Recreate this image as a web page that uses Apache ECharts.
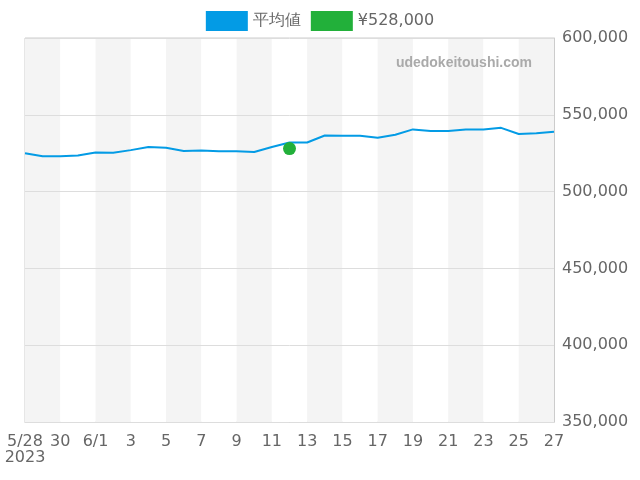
<!DOCTYPE html>
<html><head><meta charset="utf-8">
<script src="https://cdn.jsdelivr.net/npm/echarts@6/dist/echarts.min.js"></script>
</head><body style="margin:0">
<div id="main" style="width:640px;height:480px"></div>
<script>
var days=[];
for(var i=0;i<31;i++){
  var d=new Date(2023,4,28+i);
  days.push((d.getMonth()+1)+'/'+d.getDate());
}
var avg=[525000,523000,523000,523500,525500,525300,527000,529000,528500,526500,526700,526300,526200,525800,529000,532000,532000,536500,536300,536300,535000,537000,540500,539500,539500,540500,540500,541500,537500,538000,539000];
var sale=[];
for(var i=0;i<31;i++) sale.push(i==15?528000:null);

var chart=echarts.init(document.getElementById('main'));
chart.setOption({
  animation:false,
  textStyle:{fontFamily:'DejaVu Sans'},
  legend:{top:6,left:'center',itemWidth:42,itemHeight:20,itemGap:10,icon:'rect',
    textStyle:{fontSize:16,color:'#666'},data:['平均値','¥528,000']},
  grid:{left:25,right:86,top:38,bottom:58,show:true,borderColor:'#ccc',borderWidth:1},
  graphic:[{type:'text',right:108,top:56,z:100,style:{text:'udedokeitoushi.com',fontSize:14,fontWeight:'bold',fill:'#aaa'}}],
  xAxis:{type:'category',data:days,boundaryGap:false,
    axisLine:{lineStyle:{color:'#ccc'}},axisTick:{show:false},
    axisLabel:{interval:1,margin:12,color:'#666',fontSize:16,formatter:function(v,idx){
      var p=v.split('/');
      if(idx==0) return v+'\n2023';
      return p[1]=='1'?v:p[1];
    }},
    splitArea:{show:true,interval:1,areaStyle:{color:['#f4f4f4','#ffffff']}}},
  yAxis:{type:'value',position:'right',min:350000,max:600000,interval:50000,
    axisLine:{show:true,lineStyle:{color:'#ccc'}},axisTick:{show:false},
    splitLine:{show:true,lineStyle:{color:'#dddddd'}},z:5,
    axisLabel:{color:'#666',fontSize:16,formatter:function(v){return v.toLocaleString('en-US');}}},
  series:[
    {name:'平均値',type:'line',data:avg,showSymbol:false,symbol:'none',z:10,lineStyle:{color:'#039be5',width:2},itemStyle:{color:'#039be5'}},
    {name:'¥528,000',type:'scatter',data:sale,symbolSize:13,z:11,itemStyle:{color:'#22b03a',opacity:1}}
  ]
});
</script>
</body></html>
